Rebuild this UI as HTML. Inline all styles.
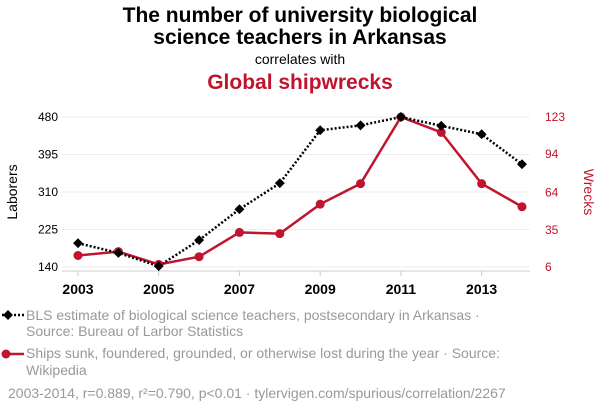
<!DOCTYPE html>
<html><head><meta charset="utf-8"><style>
body{margin:0;background:#fff;width:600px;height:414px;overflow:hidden;font-family:"Liberation Sans",sans-serif}
</style></head><body>
<svg width="600" height="414" xmlns="http://www.w3.org/2000/svg">
<text x="300" y="22" text-anchor="middle" font-size="21" font-weight="bold" fill="#000">The number of university biological</text>
<text x="300" y="44" text-anchor="middle" font-size="21" font-weight="bold" fill="#000">science teachers in Arkansas</text>
<text x="300" y="64" text-anchor="middle" font-size="14" fill="#000">correlates with</text>
<text x="300" y="89" text-anchor="middle" font-size="21" font-weight="bold" fill="#c0152f">Global shipwrecks</text>
<g id="grid"></g><g id="axes"></g><g id="marks"></g>
<text transform="translate(17,192) rotate(-90)" text-anchor="middle" font-size="14" fill="#000">Laborers</text>
<text transform="translate(584,192) rotate(90)" text-anchor="middle" font-size="14" fill="#c0152f">Wrecks</text>
<g>
<line x1="2" y1="315" x2="24" y2="315" stroke="#000" stroke-width="2.5" stroke-dasharray="2,2"/>
<rect x="4.5" y="311.5" width="7" height="7" transform="rotate(45 8 315)" fill="#000"/>
<text x="26" y="320" font-size="14" fill="#999">BLS estimate of biological science teachers, postsecondary in Arkansas ·</text>
<text x="26" y="336" font-size="14" fill="#999">Source: Bureau of Larbor Statistics</text></g>
<g>
<line x1="2" y1="354" x2="24" y2="354" stroke="#c0152f" stroke-width="2.5"/>
<circle cx="6" cy="354" r="4.5" fill="#c0152f"/>
<text x="26" y="358" font-size="14" fill="#999">Ships sunk, foundered, grounded, or otherwise lost during the year · Source:</text>
<text x="26" y="375" font-size="14" fill="#999">Wikipedia</text></g>
<text x="8" y="398" font-size="14" fill="#999">2003-2014, r=0.889, r²=0.790, p&lt;0.01 · tylervigen.com/spurious/correlation/2267</text>
</svg>
<script>
const years=[2003,2004,2005,2006,2007,2008,2009,2010,2011,2012,2013,2014];
const teachers=[194,172,142,201,271,330,450,461,480,460,441,373];
const wrecks=[15,18,8,14,33,32,55,71,123,111,71,53];
const leftTicks=[140,225,310,395,480];
const rightTicks=[6,35,64,94,123];
const xTicks=[2003,2005,2007,2009,2011,2013];
const NS="http://www.w3.org/2000/svg";
const x=v=>78+(v-2003)*(444/11);
const yL=v=>267-(v-140)/(480-140)*150;
const yR=v=>267-(v-6)/(123-6)*150;
function mk(t,a,p){const e=document.createElementNS(NS,t);for(const k in a)e.setAttribute(k,a[k]);p.appendChild(e);return e;}
const g=document.getElementById('grid'),ax=document.getElementById('axes'),m=document.getElementById('marks');
leftTicks.forEach((t,i)=>{
 const l=mk('line',{x1:62,x2:530,y1:yL(t),y2:yL(t),stroke:'#eee','stroke-width':1},g);
 
 
 const a=mk('text',{x:58,y:yL(t)+4,'text-anchor':'end','font-size':12,fill:'#000'},ax);a.textContent=t;
 
 
});
rightTicks.forEach(t=>{
 const a=mk('text',{x:545,y:yR(t)+4,'text-anchor':'start','font-size':12,fill:'#c0152f'},ax);a.textContent=t;
 
 
});
mk('line',{x1:62,x2:530,y1:271,y2:271,stroke:'#ccc'},ax);
xTicks.forEach(t=>{
 mk('line',{x1:x(t),x2:x(t),y1:271,y2:276,stroke:'#ccc'},ax);
 const a=mk('text',{x:x(t),y:294,'text-anchor':'middle','font-size':14,'font-weight':'bold',fill:'#000'},ax);a.textContent=t;
 
 
});
const rl=mk('polyline',{points:years.map((y,i)=>x(y)+','+yR(wrecks[i])).join(' '),fill:'none',stroke:'#c0152f','stroke-width':2.5},m);


const bl=mk('polyline',{points:years.map((y,i)=>x(y)+','+yL(teachers[i])).join(' '),fill:'none',stroke:'#000','stroke-width':2.5,'stroke-dasharray':'2,2'},m);


years.forEach((y,i)=>{
 const c=mk('circle',{cx:x(y),cy:yR(wrecks[i]),r:4.5,fill:'#c0152f'},m);
 
 
});
years.forEach((y,i)=>{
 const cx=x(y),cy=yL(teachers[i]);
 const r=mk('rect',{x:cx-3.5,y:cy-3.5,width:7,height:7,fill:'#000',transform:`rotate(45 ${cx} ${cy})`},m);
 
 
});
</script>
</body></html>
